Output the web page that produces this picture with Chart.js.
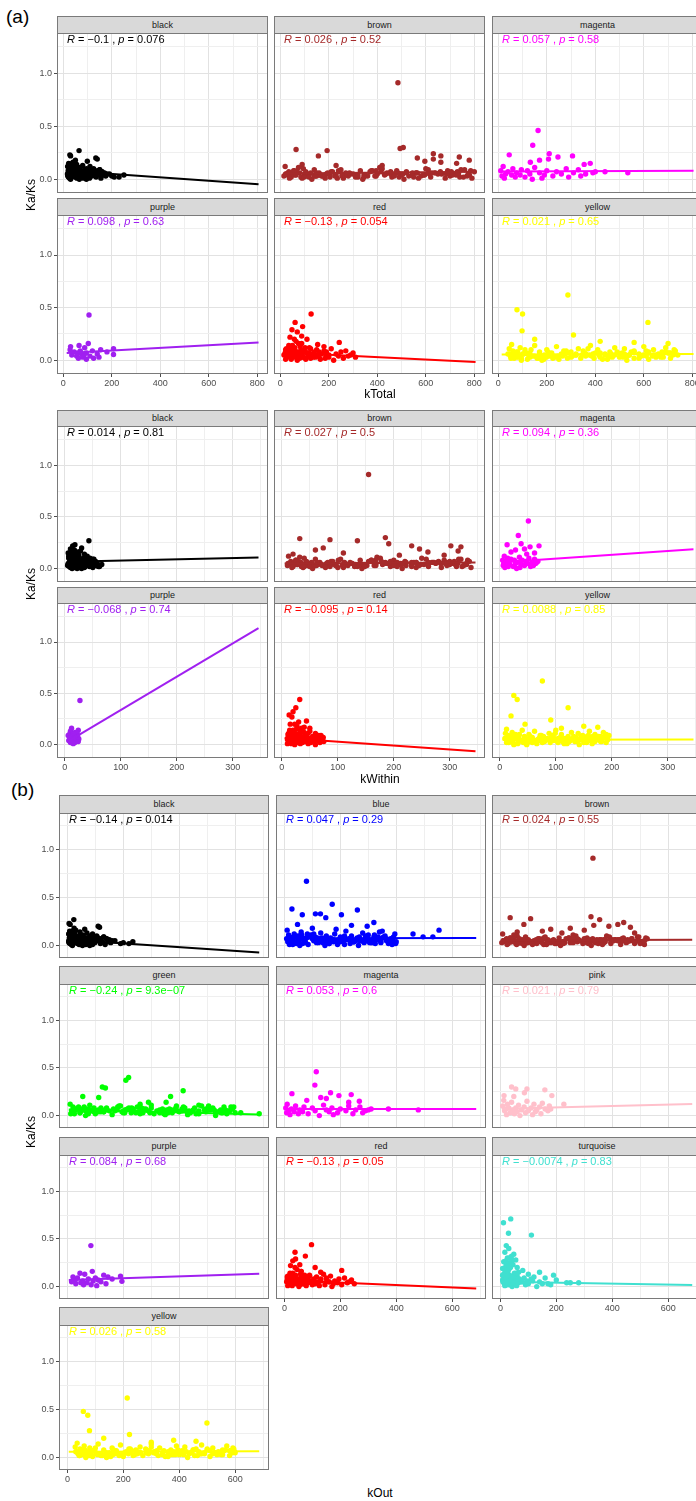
<!DOCTYPE html>
<html>
<head>
<meta charset="utf-8">
<script src="https://cdn.jsdelivr.net/npm/chart.js@4.4.1/dist/chart.umd.min.js"></script>
<style>
  html, body { margin: 0; padding: 0; background: #fff; overflow: hidden; }
  body { position: relative; width: 696px; height: 1501px; font-family: "Liberation Sans", Arial, sans-serif; }
  .strip { position: absolute; box-sizing: border-box; background: #d9d9d9; border: 1px solid #7a7a7a;
           font-size: 9px; color: #1a1a1a; text-align: center; }
  .tag { position: absolute; font-size: 19px; color: #000; }
  .xtitle { position: absolute; font-size: 12px; color: #000; transform: translate(-50%, -50%); white-space: nowrap; }
  .ytitle { position: absolute; font-size: 12px; color: #000; transform: translate(-50%, -50%) rotate(-90deg); white-space: nowrap; }
  canvas { position: absolute; }
</style>
</head>
<body>
<div class="tag" style="left:6px;top:6px">(a)</div>
<div class="tag" style="left:11px;top:779px">(b)</div>
<script>
// module order for the two networks
const modulesA = ['black', 'brown', 'magenta', 'purple', 'red', 'yellow'];
const modulesB = ['black', 'blue', 'brown', 'green', 'magenta', 'pink', 'purple', 'red', 'turquoise', 'yellow'];

// axis ticks
const yTicks = [0, 0.5, 1.0];
const yTickLabels = ['0.0', '0.5', '1.0'];
const yMinor = [0.25, 0.75, 1.25];
const kTotalTicks = [0, 200, 400, 600, 800];
const kTotalMinor = [100, 300, 500, 700];
const kWithinTicks = [0, 100, 200, 300];
const kWithinMinor = [50, 150, 250, 350];
const kOutTicks = [0, 200, 400, 600];
const kOutMinor = [100, 300, 500, 700];

// correlation labels
const kTotalR = ['\u22120.1', '0.026', '0.057', '0.098', '\u22120.13', '0.021'];
const kTotalP = ['0.076', '0.52', '0.58', '0.63', '0.054', '0.65'];
const kWithinR = ['0.014', '0.027', '0.094', '\u22120.068', '\u22120.095', '0.0088'];
const kWithinP = ['0.81', '0.5', '0.36', '0.74', '0.14', '0.85'];
const kOutR = ['\u22120.14', '0.047', '0.024', '\u22120.24', '0.053', '0.021', '0.084', '\u22120.13', '\u22120.0074', '0.026'];
const kOutP = ['0.014', '0.29', '0.55', '9.3e\u221207', '0.6', '0.79', '0.68', '0.05', '0.83', '0.58'];

// linear fit, value at the start and end of each line
const kTotalFitStart = [0.08, 0.055, 0.072, 0.07, 0.075, 0.055];
const kTotalFitEnd = [-0.047, 0.07, 0.08, 0.17, -0.015, 0.06];
const kWithinFitStart = [0.066, 0.05, 0.061, 0.03, 0.065, 0.048];
const kWithinFitEnd = [0.108, 0.058, 0.187, 1.135, -0.065, 0.05];
const kOutFitStart = [0.06, 0.075, 0.055, 0.063, 0.068, 0.073, 0.07, 0.067, 0.05, 0.06];
const kOutFitEnd = [-0.074, 0.078, 0.06, 0.012, 0.07, 0.122, 0.136, -0.02, 0.018, 0.064];

// per-gene Ka/Ks and connectivity
const blackKaKs = [0.27,0.23,0.22,0.20,0.19,0.17,0.16,0.15,0.14,0.13,
  0.12,0.12,0.11,0.11,0.10,0.10,0.10,0.09,0.09,0.09,
  0.08,0.08,0.08,0.08,0.07,0.07,0.07,0.07,0.07,0.06,
  0.06,0.06,0.06,0.06,0.05,0.05,0.05,0.05,0.05,0.05,
  0.04,0.04,0.04,0.04,0.04,0.04,0.03,0.03,0.03,0.03,
  0.03,0.03,0.02,0.02,0.02,0.02,0.02,0.02,0.01,0.01,
  0.01,0.01,0.01,0.00,0.00,0.00,0.05,0.03,0.02,0.04,
  0.08,0.05,0.12,0.03,0.10,0.06,0.15,0.04,0.09,0.07,
  0.11,0.02,0.13,0.06,0.08,0.04,0.10,0.05,0.14,0.07,
  0.03,0.09,0.06,0.12,0.04,0.08,0.05,0.11,0.07,0.18];
const blackKTotal = [65,27,30,134,140,99,40,22,55,80,
  18,110,35,70,25,95,125,45,60,150,
  20,85,115,33,50,75,105,140,160,28,
  62,90,120,170,17,42,68,100,130,190,
  24,52,78,112,145,165,19,38,58,88,
  118,175,21,48,72,98,135,210,26,56,
  82,108,155,30,66,95,180,200,230,250,
  32,58,20,95,44,128,36,76,150,62,
  27,105,52,85,140,18,68,118,48,158,
  40,92,132,24,112,54,80,38,100,50];
const blackKWithin = [43,18,14,30,10,28,22,6,35,25,
  8,40,12,20,7,33,45,16,24,50,
  9,27,38,13,19,29,36,48,52,11,
  21,31,42,55,6,15,23,34,46,58,
  7,17,26,37,47,53,5,12,20,28,
  39,56,8,16,24,32,44,60,10,18,
  26,35,50,13,22,30,49,57,62,66,
  11,20,7,33,15,44,12,26,52,21,
  9,36,18,29,48,6,23,41,16,55,
  13,31,46,8,39,19,27,13,35,17];
const blackKOut = [23,6,10,110,115,62,30,8,45,70,
  5,90,25,55,12,80,105,35,50,130,
  7,68,95,20,40,60,88,120,140,15,
  48,75,100,150,5,30,52,85,110,170,
  10,38,62,92,125,145,6,26,46,72,
  98,155,9,36,58,82,118,190,14,42,
  66,90,135,18,54,80,160,200,220,234,
  12,28,6,60,22,95,16,45,130,34,
  8,72,26,52,110,5,40,86,20,140,
  14,58,100,7,80,30,48,18,66,24];

const brownKaKs = [0.91,0.30,0.29,0.28,0.27,0.24,0.22,0.22,0.21,0.20,0.19,0.18,0.17,0.16,0.15,0.14,0.13,0.13,
  0.12,0.11,0.10,0.10,0.09,0.09,0.09,0.08,0.08,0.08,
  0.08,0.07,0.07,0.07,0.07,0.07,0.06,0.06,0.06,0.06,
  0.06,0.06,0.05,0.05,0.05,0.05,0.05,0.05,0.05,0.04,
  0.04,0.04,0.04,0.04,0.04,0.04,0.03,0.03,0.03,0.03,
  0.03,0.03,0.03,0.02,0.02,0.02,0.02,0.02,0.02,0.01,
  0.01,0.01,0.01,0.01,0.00,0.00,0.00,0.11,0.10,0.09,
  0.08,0.07,0.06,0.05,0.04,0.03,0.02,0.01,0.06,0.05,
  0.04,0.03,0.07,0.02,0.05,0.08,0.03,0.06,0.04,0.02,
  0.05,0.04,0.06,0.03,0.07,0.05,0.02,0.06,0.04,0.08,
  0.05,0.03,0.07,0.04,0.06,0.02,0.05,0.09,0.03,0.06,
  0.04,0.07,0.05,0.01,0.06,0.03,0.08,0.04,0.05,0.02,
  0.06,0.04,0.07,0.03,0.05,0.06,0.02,0.04,0.08,0.05,
  0.03,0.06,0.04,0.07,0.05,0.01,0.06,0.03,0.05,0.04,
  0.07,0.02,0.06,0.04,0.05,0.03,0.08,0.05,0.04,0.06];
const brownKTotal = [485,507,494,65,193,631,157,662,738,565,631,779,596,662,727,90,230,420,
  20,410,95,600,250,760,140,480,330,55,
  690,210,520,35,370,800,160,440,270,640,
  80,560,300,720,120,400,25,650,190,500,
  350,780,60,230,590,430,110,700,280,530,
  15,390,170,740,320,620,45,460,205,570,
  90,680,260,790,130,340,510,75,420,610,
  240,730,150,470,30,360,550,185,660,290,
  40,770,215,490,100,380,580,125,710,310,
  28,345,612,150,705,455,85,520,265,785,
  48,395,660,205,560,118,435,745,175,625,
  310,68,495,235,690,140,375,545,22,755,
  285,595,105,470,665,195,345,725,58,505,
  255,635,165,415,775,38,545,225,685,320,
  455,98,565,255,735,145,395,615,65,485];
const brownKWithin = [155,185,32,86,135,191,232,302,320,74,246,60,315,261,110,20,210,290,
  12,170,40,250,105,320,60,200,140,25,
  290,88,220,16,155,335,68,185,112,270,
  34,236,126,305,50,168,14,275,80,210,
  148,330,27,97,248,180,46,295,118,222,
  10,165,72,312,135,262,20,194,86,240,
  38,285,110,338,55,143,215,32,176,258,
  101,308,63,198,18,152,232,78,278,122,
  22,325,91,206,42,160,245,53,300,130,
  15,145,262,60,300,190,35,222,115,332,
  22,168,280,88,240,50,186,316,74,268,
  132,28,212,100,294,58,160,232,11,322,
  122,254,44,200,284,82,148,310,25,216,
  108,272,70,178,330,18,232,96,292,138,
  194,40,240,110,314,62,168,262,28,206];
const brownKOut = [331,324,35,108,355,441,84,420,334,388,465,250,180,300,150,60,220,480,
  8,260,60,380,160,490,90,310,210,35,
  440,135,330,22,235,525,100,280,170,410,
  50,355,190,465,75,255,12,420,120,320,
  225,505,38,145,375,275,70,450,180,340,
  5,250,110,480,200,395,28,295,130,365,
  58,430,165,515,85,215,325,48,270,390,
  155,470,95,300,18,230,350,115,425,185,
  25,500,140,315,65,245,370,80,455,195,
  12,230,400,95,470,300,55,345,175,520,
  30,260,435,135,370,78,285,495,115,410,
  205,42,325,155,455,92,245,360,10,500,
  190,395,68,310,440,128,225,480,36,335,
  170,420,108,275,515,24,360,150,450,210,
  300,62,375,168,490,96,260,405,40,320];

const magentaKaKs = [0.46,0.32,0.24,0.23,0.22,0.21,0.19,0.18,0.16,0.15,0.14,0.07,0.06,
  0.12,0.11,0.10,0.10,0.09,0.09,0.08,0.08,0.08,0.07,
  0.07,0.07,0.06,0.06,0.06,0.05,0.05,0.05,0.05,0.04,
  0.04,0.04,0.03,0.03,0.03,0.02,0.02,0.02,0.01,0.01,
  0.00,0.06];
const magentaKTotal = [164,142,210,45,306,246,207,170,132,379,354,440,534,
  20,150,60,280,95,330,10,200,120,400,
  40,240,75,170,310,30,130,260,360,55,
  190,90,225,15,340,110,70,290,25,180,
  140,390];
const magentaKWithin = [51,33,38,13,70,54,44,28,20,62,48,66,58,
  8,35,14,52,20,62,5,40,26,68,
  10,46,16,32,58,7,28,50,64,12,
  38,18,44,6,60,24,15,55,9,36,
  30,66];
const magentaKOut = [114,109,165,27,239,195,130,150,80,268,230,372,479,
  10,140,40,230,70,270,5,170,100,310,
  25,200,55,150,255,15,110,220,290,35,
  160,65,190,8,280,85,50,245,20,175,
  125,300];

const purpleKaKs = [0.43,0.16,0.14,0.13,0.12,0.11,0.10,0.10,0.09,0.09,0.08,0.08,0.07,0.07,0.06,0.06,0.055,0.05,0.05,0.04,0.04,0.03,0.03,0.02,0.02,0.01];
const purpleKTotal = [106,103,65,30,88,207,28,154,70,120,45,180,60,95,140,75,207,35,85,110,55,147,80,125,62,95];
const purpleKWithin = [27,12,24,10,18,22,8,15,20,6,14,23,11,19,9,16,25,13,21,7,17,12,24,10,18,15];
const purpleKOut = [84,89,45,62,130,190,20,145,100,36,75,160,28,110,55,92,195,15,120,48,70,138,30,85,58,105];

const redKaKs = [0.44,0.36,0.32,0.29,0.27,0.23,0.22,0.20,0.17,0.16,0.15,
  0.14,0.13,0.12,0.12,0.11,0.11,0.10,0.10,0.10,0.09,
  0.09,0.09,0.08,0.08,0.08,0.08,0.07,0.07,0.07,0.07,
  0.06,0.06,0.06,0.06,0.06,0.05,0.05,0.05,0.05,0.05,
  0.04,0.04,0.04,0.04,0.04,0.03,0.03,0.03,0.03,0.03,
  0.02,0.02,0.02,0.02,0.01,0.01,0.01,0.01,0.00,0.00,
  0.07,0.05,0.03,0.06,0.04,
  0.06,0.09,0.04,0.12,0.07,0.18,0.05,0.10,0.03,0.08,
  0.14,0.06,0.11,0.04,0.09,0.07,0.16,0.05,0.10,0.03,
  0.08,0.12,0.06,0.20,0.04,0.09,0.07,0.13,0.05,0.11];
const redKTotal = [127,61,92,48,70,88,40,110,243,75,154,
  35,180,60,120,25,210,85,150,45,270,
  100,30,190,65,140,250,20,110,55,300,
  75,170,40,230,130,90,15,200,50,160,
  280,70,115,35,240,95,145,28,310,60,
  185,80,125,260,45,165,22,105,70,220,
  50,290,135,88,42,
  30,55,80,42,110,65,135,22,95,160,
  50,75,125,38,180,60,88,145,28,200,
  70,102,48,58,155,35,118,82,190,45];
const redKWithin = [32,25,20,13,18,44,30,15,40,50,26,
  14,50,22,36,12,60,28,44,18,70,
  32,13,55,24,40,66,11,34,20,74,
  26,48,16,62,38,30,10,58,19,46,
  72,25,35,15,64,31,42,12,75,22,
  52,27,37,68,17,47,10,33,23,60,
  19,71,39,29,16,
  12,22,32,17,42,27,52,11,37,60,
  20,30,47,15,66,24,35,55,13,70,
  28,40,19,23,58,14,45,33,68,18];
const redKOut = [97,38,75,40,30,55,22,110,205,60,130,
  20,140,40,90,12,165,60,115,30,215,
  75,18,150,45,105,195,10,80,35,240,
  50,130,25,180,95,65,8,160,33,120,
  225,48,85,22,190,70,110,15,250,42,
  145,55,100,205,28,125,12,78,52,170,
  38,230,100,62,26,
  15,35,55,25,80,45,100,10,65,130,
  30,50,90,20,150,40,60,110,12,175,
  48,72,28,38,120,18,85,58,160,26];

const yellowKaKs = [0.62,0.48,0.44,0.36,0.28,0.24,0.20,0.18,0.17,0.16,
  0.15,0.14,0.14,0.13,0.13,0.12,0.12,0.12,0.11,0.11,
  0.11,0.10,0.10,0.10,0.10,0.09,0.09,0.09,0.09,0.08,
  0.08,0.08,0.08,0.08,0.07,0.07,0.07,0.07,0.07,0.06,
  0.06,0.06,0.06,0.06,0.06,0.05,0.05,0.05,0.05,0.05,
  0.05,0.04,0.04,0.04,0.04,0.04,0.04,0.03,0.03,0.03,
  0.03,0.03,0.02,0.02,0.02,0.02,0.02,0.01,0.01,0.01,
  0.01,0.00,0.00,0.00,0.09,0.07,0.05,0.03,0.06,0.04,
  0.08,0.02,0.10,0.05,0.03,0.07,0.01,0.06,0.04,0.02,
  0.11,0.05,0.08,0.03,0.06,
  0.06,0.04,0.08,0.03,0.05,0.07,0.02,0.06,0.09,0.04,
  0.05,0.03,0.07,0.06,0.04,0.08,0.02,0.05,0.06,0.03,
  0.07,0.04,0.05,0.10,0.03,0.06,0.04,0.08,0.05,0.02,
  0.06,0.03,0.07,0.05,0.04,0.09,0.02,0.06,0.04,0.05,
  0.08,0.03,0.06,0.04,0.07,0.05,0.01,0.06,0.03,0.05,
  0.04,0.07,0.02,0.05,0.06,0.03,0.08,0.04,0.05,0.06];
const yellowKTotal = [287,77,100,617,98,310,150,420,560,700,
  55,380,150,600,240,480,90,690,330,45,
  520,200,640,110,410,270,730,60,350,560,
  170,460,80,620,290,510,130,700,220,40,
  390,580,100,320,660,190,440,70,540,260,
  740,140,470,50,360,610,230,500,85,670,
  300,420,160,580,65,340,710,250,120,450,
  620,180,530,95,280,400,650,75,360,210,
  490,560,135,320,680,115,430,260,590,165,
  370,720,205,515,48,
  62,305,548,180,665,420,95,360,610,245,
  480,130,705,275,530,75,395,640,210,455,
  112,585,320,725,160,500,265,690,375,52,
  440,198,620,345,88,560,285,728,148,415,
  675,235,505,72,355,598,188,465,650,125,
  385,710,225,540,105,470,300,635,170,520];
const yellowKWithin = [76,25,31,122,20,91,45,150,175,110,
  12,100,40,160,62,128,22,185,88,10,
  140,52,170,28,110,72,195,15,94,150,
  44,122,20,166,76,136,34,188,58,9,
  104,156,26,85,176,50,118,18,144,68,
  192,36,126,13,96,162,60,134,22,180,
  80,112,42,155,16,90,190,66,32,120,
  165,48,142,25,74,108,174,19,97,56,
  132,150,35,86,182,30,115,70,158,44,
  99,193,54,138,11,
  14,80,145,45,172,110,24,95,158,64,
  126,34,186,72,138,19,104,168,56,120,
  28,152,84,190,42,132,70,180,98,12,
  116,52,162,90,22,148,76,192,38,108,
  176,62,134,18,92,156,48,122,170,32,
  100,185,58,142,26,124,78,166,44,136];
const yellowKOut = [214,57,73,499,79,222,130,380,460,300,
  35,300,110,480,190,390,60,570,260,28,
  420,160,520,80,330,220,595,45,280,450,
  130,370,55,500,230,410,95,560,175,30,
  310,470,70,250,540,150,360,50,440,205,
  600,105,380,38,290,490,180,400,62,550,
  240,340,120,465,42,270,580,200,90,360,
  510,140,430,66,225,320,530,52,295,170,
  395,455,100,260,555,85,350,210,475,125,
  300,590,165,415,33,
  40,250,450,150,545,345,78,295,500,200,
  395,108,580,225,435,62,325,525,172,375,
  92,480,262,592,132,410,218,565,308,44,
  360,162,510,282,72,460,235,598,120,340,
  555,192,415,58,290,490,155,380,535,102,
  318,585,185,445,86,385,245,520,140,425];

const blueKaKs = [0.67,0.43,0.38,0.37,0.33,0.33,0.32,0.32,0.29,0.24,0.22,0.21,0.20,0.18,0.17,0.16,0.15,0.12,0.09,0.09,
  0.16,0.15,0.14,0.14,0.13,0.13,0.12,0.12,0.12,0.11,
  0.11,0.11,0.10,0.10,0.10,0.10,0.09,0.09,0.09,0.09,
  0.08,0.08,0.08,0.08,0.08,0.07,0.07,0.07,0.07,0.07,
  0.06,0.06,0.06,0.06,0.06,0.05,0.05,0.05,0.05,0.05,
  0.04,0.04,0.04,0.04,0.04,0.03,0.03,0.03,0.03,0.03,
  0.02,0.02,0.02,0.02,0.01,0.01,0.01,0.00,0.00,0.00,
  0.09,0.07,0.05,0.03,0.06,0.04,0.08,0.02,0.10,0.05,
  0.03,0.07,0.01,0.06,0.04,0.11,0.05,0.08,0.03,0.06,
  0.06,0.04,0.09,0.03,0.07,0.05,0.11,0.02,0.08,0.06,
  0.04,0.10,0.05,0.03,0.07,0.12,0.06,0.02,0.08,0.04,
  0.05,0.09,0.03,0.06,0.07,0.01,0.10,0.05,0.04,0.08,
  0.06,0.03,0.11,0.05,0.07,0.02,0.09,0.04,0.06,0.08,
  0.03,0.05,0.12,0.04,0.07,0.06,0.02,0.09,0.05,0.03,
  0.08,0.04,0.10,0.06,0.01,0.07,0.05,0.09,0.03,0.06];
const blueKOut = [79,171,27,261,111,129,64,204,148,320,47,240,296,100,185,553,350,460,496,531,
  10,220,60,340,130,280,35,395,180,15,
  300,95,360,45,240,150,390,20,200,320,
  80,260,30,350,165,290,70,380,120,8,
  230,330,50,175,370,105,270,25,310,140,
  400,75,250,12,210,345,115,285,40,375,
  160,235,65,325,18,190,385,145,55,265,
  335,100,295,28,170,245,355,42,215,125,
  305,365,85,195,390,58,275,135,315,22,
  32,185,92,310,145,255,62,372,118,220,
  15,290,168,48,335,105,240,392,78,200,
  155,355,38,272,128,215,88,382,175,25,
  262,138,322,52,230,398,110,188,68,298,
  142,365,82,248,12,318,160,58,278,122,
  208,345,95,232,30,388,152,268,72,338];

const greenKaKs = [0.40,0.37,0.30,0.29,0.26,0.20,0.20,0.19,0.14,0.14,0.12,0.11,0.08,0.03,0.02,
  0.12,0.11,0.11,0.10,0.10,0.10,0.09,0.09,0.09,0.09,
  0.08,0.08,0.08,0.08,0.07,0.07,0.07,0.07,0.07,0.06,
  0.06,0.06,0.06,0.06,0.06,0.05,0.05,0.05,0.05,0.05,
  0.05,0.04,0.04,0.04,0.04,0.04,0.03,0.03,0.03,0.03,
  0.03,0.02,0.02,0.02,0.02,0.01,0.01,0.01,0.00,0.00,
  0.08,0.06,0.04,0.02,0.07,0.05,0.03,0.09,0.06,0.04,
  0.10,0.05,0.03,0.07,0.02,0.06,0.08,0.04,0.05,0.03,
  0.09,0.06,0.02,0.07,0.04,
  0.05,0.07,0.03,0.06,0.08,0.04,0.06,0.02,0.09,0.05,
  0.07,0.04,0.06,0.03,0.08,0.05,0.10,0.04,0.06,0.02,
  0.07,0.05,0.03,0.08,0.06,0.04,0.09,0.05,0.07,0.03,
  0.06,0.04,0.08,0.02,0.05,0.07,0.04,0.06,0.09,0.05,
  0.03,0.07,0.06,0.04,0.08,0.05,0.02,0.06,0.04,0.07,
  0.05,0.03,0.08,0.06,0.04,0.07,0.05,0.09,0.03,0.06];
const greenKOut = [219,209,125,136,414,55,369,112,290,353,260,470,588,620,686,
  10,300,80,480,190,390,40,560,250,20,
  420,140,520,60,340,230,590,30,280,450,
  110,370,50,500,210,410,90,580,170,15,
  320,470,70,240,540,130,360,45,440,200,
  600,100,310,25,260,430,160,350,65,530,
  220,380,120,470,35,290,550,180,85,400,
  505,150,270,55,460,330,230,95,570,205,
  415,125,345,75,495,
  25,165,330,490,95,255,420,570,60,205,
  365,530,140,295,455,18,185,345,510,75,
  235,395,555,120,280,440,595,50,215,375,
  525,105,265,430,580,35,195,355,505,88,
  245,410,565,130,300,470,12,178,340,495,
  65,228,388,548,112,272,435,585,45,205];

const pinkKaKs = [0.30,0.28,0.28,0.27,0.24,0.21,0.21,0.20,0.12,
  0.16,0.15,0.14,0.13,0.12,0.12,0.11,0.10,0.10,0.09,
  0.09,0.08,0.08,0.08,0.07,0.07,0.06,0.06,0.06,0.05,
  0.05,0.05,0.04,0.04,0.03,0.03,0.02,0.02,0.01,0.01,
  0.00,0.07];
const pinkKOut = [40,55,95,159,86,13,184,48,227,
  12,95,40,150,25,120,65,175,8,85,
  140,30,110,55,160,20,75,130,45,100,
  170,15,60,125,35,90,145,50,115,22,
  70,180];

const turquoiseKaKs = [0.71,0.67,0.56,0.54,0.43,0.40,0.36,0.34,0.32,0.30,0.28,0.26,0.25,0.23,0.22,0.20,0.19,0.18,0.17,0.15,0.14,0.13,0.12,0.12,
  0.12,0.11,0.11,0.10,0.10,0.10,0.09,0.09,0.09,0.08,
  0.08,0.08,0.07,0.07,0.07,0.07,0.06,0.06,0.06,0.06,
  0.05,0.05,0.05,0.05,0.04,0.04,0.04,0.04,0.03,0.03,
  0.03,0.02,0.02,0.02,0.01,0.01,0.00,0.00,0.06,0.04,
  0.08,0.05,0.03,0.07,0.02,0.06,0.09,0.04,0.05,0.03,
  0.08,0.15,0.05,0.22,0.11,0.28,0.06,0.18,0.03,0.13,
  0.25,0.09,0.16,0.04,0.20,0.12,0.07,0.30,0.10,0.14,
  0.05,0.19,0.08,0.24,0.12,0.06,0.17,0.10,0.27,0.15];
const turquoiseKOut = [37,11,29,111,21,30,16,48,40,25,55,12,35,45,20,60,8,28,80,140,50,100,190,33,
  10,60,25,120,40,15,85,30,160,50,
  20,110,8,70,35,200,45,18,95,28,
  140,55,12,75,38,237,22,65,100,14,
  48,180,32,90,58,16,42,130,26,280,
  68,36,150,52,24,115,44,250,78,170,
  18,26,9,34,22,42,14,30,38,12,
  24,50,17,28,36,8,45,32,20,56,
  27,15,62,40,10,33,23,44,19,65];

const moduleColors = {
  black: '#000000', brown: '#A52A2A', magenta: '#FF00FF', purple: '#A020F0', red: '#FF0000',
  yellow: '#FFFF00', blue: '#0000FF', green: '#00FF00', pink: '#FFC0CB', turquoise: '#40E0D0'
};

const moduleData = {
  black: { kaks: blackKaKs, kTotal: blackKTotal, kWithin: blackKWithin, kOut: blackKOut },
  brown: { kaks: brownKaKs, kTotal: brownKTotal, kWithin: brownKWithin, kOut: brownKOut },
  magenta: { kaks: magentaKaKs, kTotal: magentaKTotal, kWithin: magentaKWithin, kOut: magentaKOut },
  purple: { kaks: purpleKaKs, kTotal: purpleKTotal, kWithin: purpleKWithin, kOut: purpleKOut },
  red: { kaks: redKaKs, kTotal: redKTotal, kWithin: redKWithin, kOut: redKOut },
  yellow: { kaks: yellowKaKs, kTotal: yellowKTotal, kWithin: yellowKWithin, kOut: yellowKOut },
  blue: { kaks: blueKaKs, kOut: blueKOut },
  green: { kaks: greenKaKs, kOut: greenKOut },
  pink: { kaks: pinkKaKs, kOut: pinkKOut },
  turquoise: { kaks: turquoiseKaKs, kOut: turquoiseKOut }
};

const FONT = '"Liberation Sans", Arial, sans-serif';
Chart.defaults.font.family = FONT;

// facet blocks: position of each row/column in the page
const groups = [
  { metric: 'kTotal', modules: modulesA, cols: [57, 274, 492], width: 211,
    rowTops: [33, 215], rowHeights: [160, 159], stripH: 17,
    xMin: -26, xMax: 844, xMajor: kTotalTicks, xMinor: kTotalMinor, lineX: [14, 805],
    fitStart: kTotalFitStart, fitEnd: kTotalFitEnd, r: kTotalR, p: kTotalP,
    titleY: 394, yTitleY: 195 },
  { metric: 'kWithin', modules: modulesA, cols: [57, 274, 492], width: 211,
    rowTops: [426, 603], rowHeights: [156, 155], stripH: 16,
    xMin: -14, xMax: 363, xMajor: kWithinTicks, xMinor: kWithinMinor, lineX: [5, 346],
    fitStart: kWithinFitStart, fitEnd: kWithinFitEnd, r: kWithinR, p: kWithinP,
    titleY: 779, yTitleY: 584 },
  { metric: 'kOut', modules: modulesB, cols: [59, 276, 492], width: 210,
    rowTops: [813, 984, 1155, 1325], rowHeights: [145, 144, 144, 145], stripH: 18,
    xMin: -30, xMax: 721, xMajor: kOutTicks, xMinor: kOutMinor, lineX: [5, 686],
    fitStart: kOutFitStart, fitEnd: kOutFitEnd, r: kOutR, p: kOutP,
    titleY: 1493, yTitleY: 1132 }
];

function addDiv(cls, text, css) {
  const el = document.createElement('div');
  el.className = cls;
  el.textContent = text;
  el.style.cssText = css;
  document.body.appendChild(el);
  return el;
}

// panel frame and the "R = .., p = .." line in the top-left corner
function panelDecor(rText, pText, color) {
  return {
    id: 'panelDecor',
    afterDatasetsDraw(chart) {
      const { ctx, chartArea: a } = chart;
      ctx.save();
      ctx.strokeStyle = '#7a7a7a';
      ctx.lineWidth = 1;
      ctx.strokeRect(a.left + 0.5, a.top + 0.5, a.width - 1, a.height - 1);
      const parts = [['R', true], [' = ' + rText + ' , ', false], ['p', true], [' = ' + pText, false]];
      let x = a.left + 10;
      const y = a.top + 10;
      ctx.fillStyle = color;
      ctx.textBaseline = 'alphabetic';
      parts.forEach(([t, it]) => {
        ctx.font = (it ? 'italic ' : '') + '11px ' + FONT;
        ctx.fillText(t, x, y);
        x += ctx.measureText(t).width;
      });
      ctx.restore();
    }
  };
}

function makePanel(g, idx) {
  const module = g.modules[idx];
  const row = Math.floor(idx / 3), col = idx % 3;
  const left = g.cols[col], top = g.rowTops[row], w = g.width, h = g.rowHeights[row];
  const showX = idx + 3 >= g.modules.length;
  const showY = col === 0;
  const padL = showY ? 40 : 0, padB = showX ? 16 : 0;
  const color = moduleColors[module];

  addDiv('strip', module, `left:${left}px;top:${top - g.stripH}px;width:${w}px;height:${g.stripH + 1}px;line-height:${g.stripH - 1}px`);

  const cv = document.createElement('canvas');
  cv.width = w + padL;
  cv.height = h + padB;
  cv.style.left = (left - padL) + 'px';
  cv.style.top = top + 'px';
  document.body.appendChild(cv);

  const d = moduleData[module];
  const xs = d[g.metric], ys = d.kaks;
  const n = Math.min(xs.length, ys.length);
  const pts = [];
  for (let i = 0; i < n; i++) pts.push({ x: xs[i], y: ys[i] });

  const xAll = g.xMajor.concat(g.xMinor).sort((a, b) => a - b);
  const yAll = yTicks.concat(yMinor).sort((a, b) => a - b);
  const gridColor = (major) => (c) => (c.tick && major.includes(c.tick.value)) ? '#e2e2e2' : '#efefef';
  const tickColor = (major) => (c) => (c.tick && major.includes(c.tick.value)) ? '#4d4d4d' : 'rgba(0,0,0,0)';
  const noPad = (s) => { s.paddingTop = 0; s.paddingBottom = 0; s.paddingLeft = 0; s.paddingRight = 0; };

  new Chart(cv, {
    type: 'scatter',
    data: {
      datasets: [
        { type: 'line', data: [{ x: g.lineX[0], y: g.fitStart[idx] }, { x: g.lineX[1], y: g.fitEnd[idx] }],
          borderColor: color, borderWidth: 2, pointRadius: 0, fill: false, order: 0 },
        { data: pts, backgroundColor: color, borderWidth: 0, pointRadius: 2.7, order: 1 }
      ]
    },
    options: {
      responsive: false, animation: false, devicePixelRatio: 1,
      layout: { padding: 0, autoPadding: false },
      plugins: { legend: { display: false }, tooltip: { enabled: false } },
      scales: {
        x: {
          type: 'linear', min: g.xMin, max: g.xMax,
          afterBuildTicks: (s) => { s.ticks = xAll.map(v => ({ value: v })); },
          afterFit: (s) => { s.height = padB; noPad(s); },
          border: { display: false },
          grid: { color: gridColor(g.xMajor), lineWidth: 1, drawTicks: showX, tickLength: 3, tickColor: tickColor(g.xMajor) },
          ticks: { display: showX, autoSkip: false, maxRotation: 0, padding: 1, color: '#4d4d4d', font: { size: 9 },
                   callback: (v) => g.xMajor.includes(v) ? String(v) : '' }
        },
        y: {
          type: 'linear', min: -0.13, max: 1.38,
          afterBuildTicks: (s) => { s.ticks = yAll.map(v => ({ value: v })); },
          afterFit: (s) => { s.width = padL; noPad(s); },
          border: { display: false },
          grid: { color: gridColor(yTicks), lineWidth: 1, drawTicks: showY, tickLength: 3, tickColor: tickColor(yTicks) },
          ticks: { display: showY, autoSkip: false, padding: 2, color: '#4d4d4d', font: { size: 9 },
                   callback: (v) => { const k = yTicks.indexOf(v); return k >= 0 ? yTickLabels[k] : ''; } }
        }
      }
    },
    plugins: [panelDecor(g.r[idx], g.p[idx], color)]
  });
}

groups.forEach(g => {
  g.modules.forEach((m, i) => makePanel(g, i));
  addDiv('xtitle', g.metric, `left:380px;top:${g.titleY}px`);
  addDiv('ytitle', 'Ka/Ks', `left:31px;top:${g.yTitleY}px`);
});
</script>
</body>
</html>
